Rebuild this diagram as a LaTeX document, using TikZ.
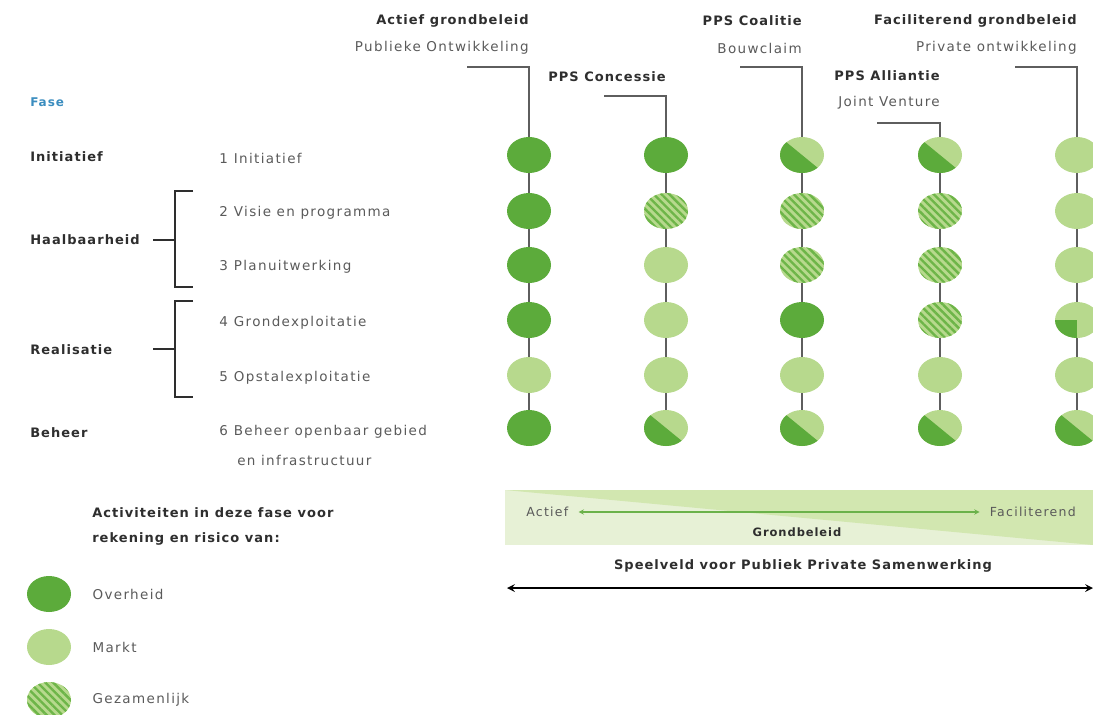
\documentclass[tikz,border=0pt]{standalone}
\usepackage{fontspec}
\setmainfont{DejaVu Sans}
\newfontfamily\widereg[LetterSpace = 10]{DejaVu Sans}
\newfontfamily\widebf[LetterSpace = 8]{DejaVu Sans Bold}
\usetikzlibrary{positioning,calc}
\usetikzlibrary{backgrounds}
\usetikzlibrary{arrows,shapes.geometric,patterns.meta}

\definecolor{dkgreen}{HTML}{5CAB3B}
\definecolor{ltgreen}{HTML}{B7D98D}
\definecolor{stripe}{HTML}{6DB548}
\definecolor{stemgray}{HTML}{5E5E5E}
\definecolor{txtdark}{HTML}{2E2E2E}
\definecolor{txtgray}{HTML}{5A5A5A}
\definecolor{faseblue}{HTML}{3B8DBF}
\definecolor{barlight}{HTML}{E7F1D6}
\definecolor{bardark}{HTML}{D2E7B0}
\definecolor{arrgreen}{HTML}{6BB24A}

\begin{document}
\begin{tikzpicture}[x = 1pt, y = -1pt, > = stealth, semithick]
\tikzstyle{every node}=[inner sep = 0pt]
\tikzstyle{dot}=[ellipse, minimum width = 44pt, minimum height = 36pt]
\tikzstyle{ovh}=[dot, fill = dkgreen]
\tikzstyle{mkt}=[dot, fill = ltgreen]
\tikzstyle{gez}=[dot, fill = ltgreen, path picture = {
  \fill[pattern = {Lines[angle = -45, distance = 5.5pt, line width = 2.4pt]}, pattern color = stripe]
    (path picture bounding box.south west) rectangle (path picture bounding box.north east);}]
\tikzstyle{spl}=[dot, fill = ltgreen, path picture = {
  \fill[dkgreen] (path picture bounding box.north west) -- (path picture bounding box.south east)
    -- (path picture bounding box.south west) -- cycle;}]
\tikzstyle{qrt}=[dot, fill = ltgreen, path picture = {
  \fill[dkgreen] (path picture bounding box.center) rectangle (path picture bounding box.south west);}]
\tikzstyle{hdr}=[anchor = east, text = txtdark, font = \fontsize{13}{15}\widebf]
\tikzstyle{sub}=[anchor = east, text = txtgray, font = \fontsize{13.5}{15}\widereg]
\tikzstyle{fase}=[anchor = west, text = txtdark, font = \fontsize{13}{15}\widebf]
\tikzstyle{item}=[anchor = west, text = txtgray, font = \fontsize{13.5}{15}\widereg]
\tikzstyle{stem}=[draw = stemgray, line width = 1.6pt]
\tikzstyle{brk}=[draw = txtdark, line width = 1.2pt]

\useasboundingbox (0,0) rectangle (1093,715);
\clip (0,0) rectangle (1093,715);

% headers
\node[hdr] (h1) at (529,21) {Actief grondbeleid};
\node[sub] (s1) at (529,48) {Publieke Ontwikkeling};
\node[hdr] (h2) at (666,77) {PPS Concessie};
\node[hdr] (h3) at (802,21) {PPS Coalitie};
\node[sub] (s3) at (802,48) {Bouwclaim};
\node[hdr] (h4) at (940,76) {PPS Alliantie};
\node[sub] (s4) at (940,103) {Joint Venture};
\node[hdr] (h5) at (1077,21) {Faciliterend grondbeleid};
\node[sub] (s5) at (1077,48) {Private ontwikkeling};

\coordinate (k1) at (467,67);
\coordinate (k2) at (604,96);
\coordinate (k3) at (740,67);
\coordinate (k4) at (877,123);
\coordinate (k5) at (1015,67);

% phases
\node[anchor = west, text = faseblue, font = \fontsize{12}{14}\widebf] (fase) at (30,102) {Fase};
\node[fase] (ini) at (30,157) {Initiatief};
\node[fase] (haal) at (30,240) {Haalbaarheid};
\node[fase] (real) at (30,350) {Realisatie};
\node[fase] (beh) at (30,433) {Beheer};

\node[item] (i1) at (219,158) {1\hspace{6pt}Initiatief};
\node[item] (i2) at (219,213) {2\hspace{6pt}Visie en programma};
\node[item] (i3) at (219,267) {3\hspace{6pt}Planuitwerking};
\node[item] (i4) at (219,323) {4\hspace{6pt}Grondexploitatie};
\node[item] (i5) at (219,378) {5\hspace{6pt}Opstalexploitatie};
\node[item] (i6) at (219,432) {6\hspace{6pt}Beheer openbaar gebied};
\node[item] (i7) at (237,460) {en infrastructuur};

\coordinate (ha) at (193,191);
\coordinate (hb) at (193,287);
\coordinate (hm) at (153,240);
\coordinate (ra) at (193,301);
\coordinate (rb) at (193,397);
\coordinate (rm) at (153,349);

\draw[brk] (ha) -- (175,191) -- (175,287) -- (hb);
\draw[brk] (ra) -- (175,301) -- (175,397) -- (rb);
\draw[brk] (hm) -- (175,240);
\draw[brk] (rm) -- (175,349);

% column 1
\node[ovh] (a1) at (529,155) {};
\node[ovh] (a2) at (529,211) {};
\node[ovh] (a3) at (529,265) {};
\node[ovh] (a4) at (529,320) {};
\node[mkt] (a5) at (529,375) {};
\node[ovh] (a6) at (529,428) {};

% column 2
\node[ovh] (b1) at (666,155) {};
\node[gez] (b2) at (666,211) {};
\node[mkt] (b3) at (666,265) {};
\node[mkt] (b4) at (666,320) {};
\node[mkt] (b5) at (666,375) {};
\node[spl] (b6) at (666,428) {};

% column 3
\node[spl] (c1) at (802,155) {};
\node[gez] (c2) at (802,211) {};
\node[gez] (c3) at (802,265) {};
\node[ovh] (c4) at (802,320) {};
\node[mkt] (c5) at (802,375) {};
\node[spl] (c6) at (802,428) {};

% column 4
\node[spl] (d1) at (940,155) {};
\node[gez] (d2) at (940,211) {};
\node[gez] (d3) at (940,265) {};
\node[gez] (d4) at (940,320) {};
\node[mkt] (d5) at (940,375) {};
\node[spl] (d6) at (940,428) {};

% column 5
\node[mkt] (e1) at (1077,155) {};
\node[mkt] (e2) at (1077,211) {};
\node[mkt] (e3) at (1077,265) {};
\node[qrt] (e4) at (1077,320) {};
\node[mkt] (e5) at (1077,375) {};
\node[spl] (e6) at (1077,428) {};

\begin{scope}[on background layer]
\path[stem] (k1) -| (a6);
\path[stem] (k2) -| (b6);
\path[stem] (k3) -| (c6);
\path[stem] (k4) -| (d6);
\path[stem] (k5) -| (e6);
\end{scope}

% grondbeleid bar
\fill[barlight] (505,490) rectangle (1093,545);
\fill[bardark] (505,490) -- (1093,490) -- (1093,545) -- cycle;
\node[anchor = west, text = txtgray, font = \fontsize{12.5}{14}\widereg] (act) at (526,512) {Actief};
\node[anchor = east, text = txtgray, font = \fontsize{12.5}{14}\widereg] (fac) at (1076,512) {Faciliterend};
\node[text = txtdark, font = \fontsize{11.5}{13}\widebf] (gb) at (797,532) {Grondbeleid};
\draw[<->, draw = arrgreen, line width = 1.4pt, shorten < = 10pt, shorten > = 10pt] (act) -- (fac);

\node[text = txtdark, font = \fontsize{13}{15}\widebf] (spv) at (803,566) {Speelveld voor Publiek Private Samenwerking};
\coordinate (pl) at (507,588);
\coordinate (pr) at (1093,588);
\draw[<->, line width = 2.4pt] (pl) -- (pr);

% legend
\node[fase, align = left, font = \fontsize{13}{25}\widebf] (leg) at (92,526) {Activiteiten in deze fase voor\\rekening en risico van:};
\node[ovh] (l1) at (49,594) {};
\node[mkt] (l2) at (49,647) {};
\node[gez] (l3) at (49,700) {};
\node[item] (t1) [right = 21pt of l1] {Overheid};
\node[item] (t2) [right = 21pt of l2] {Markt};
\node[item] (t3) [right = 21pt of l3] {Gezamenlijk};
\end{tikzpicture}
\end{document}
